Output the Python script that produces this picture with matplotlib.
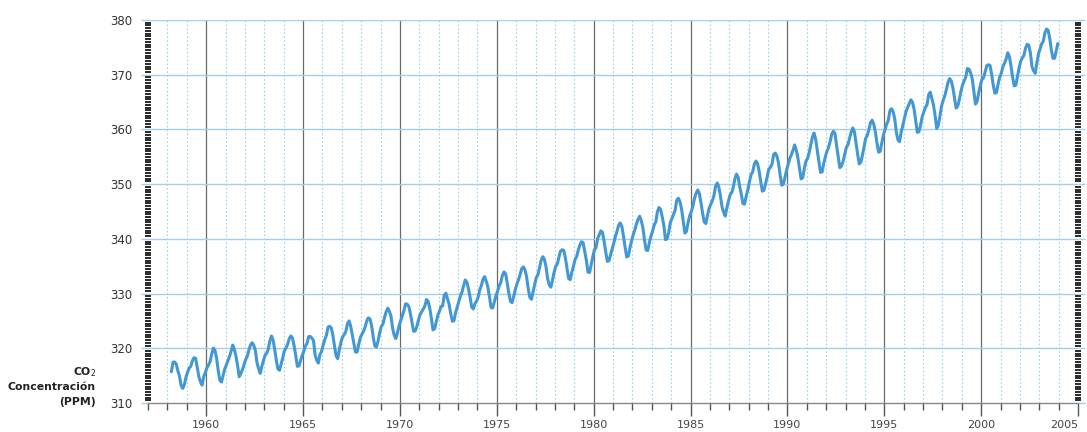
import numpy as np
import matplotlib.pyplot as plt
from matplotlib.ticker import MultipleLocator

# monthly CO2 (ppm), Mauna Loa, Mar 1958 - Dec 2003
firstYear = 1958
firstMonth = 3
co2 = [
    315.71, 317.45, 317.50, 317.10, 315.86, 314.93, 313.20, 312.66, 313.33, 314.67,
    315.62, 316.38, 316.71, 317.72, 318.29, 318.15, 316.54, 314.80, 313.84, 313.26, 314.80, 315.58,
    316.43, 316.97, 317.58, 319.02, 320.03, 319.59, 318.18, 315.91, 314.16, 313.83, 315.00, 316.19,
    316.93, 317.70, 318.54, 319.48, 320.58, 319.77, 318.57, 316.79, 314.80, 315.38, 316.10, 317.01,
    317.94, 318.56, 319.68, 320.63, 321.01, 320.55, 319.58, 317.40, 316.26, 315.42, 316.69, 317.69,
    318.74, 319.08, 319.86, 321.39, 322.25, 321.47, 319.74, 317.77, 316.21, 315.99, 317.12, 318.31,
    319.57, 320.07, 320.73, 321.77, 322.25, 321.89, 320.44, 318.70, 316.70, 316.79, 317.79, 318.71,
    319.44, 320.44, 320.89, 322.13, 322.16, 321.87, 321.39, 318.81, 317.81, 317.30, 318.87, 319.42,
    320.62, 321.59, 322.39, 323.87, 324.01, 323.75, 322.39, 320.37, 318.64, 318.10, 319.79, 321.08,
    322.07, 322.50, 323.04, 324.42, 325.00, 324.09, 322.55, 320.92, 319.31, 319.31, 320.72, 321.96,
    322.57, 323.15, 323.89, 325.02, 325.57, 325.36, 324.14, 322.03, 320.41, 320.25, 321.31, 322.84,
    324.00, 324.42, 325.64, 326.66, 327.34, 326.76, 325.88, 323.67, 322.38, 321.78, 322.85, 324.11,
    325.03, 325.99, 326.87, 328.13, 328.07, 327.66, 326.35, 324.69, 323.10, 323.16, 323.98, 325.13,
    326.17, 326.68, 327.18, 327.78, 328.92, 328.57, 327.34, 325.46, 323.36, 323.57, 324.80, 326.01,
    326.77, 327.63, 327.75, 329.72, 330.07, 329.09, 328.05, 326.32, 324.93, 325.06, 326.50, 327.55,
    328.54, 329.56, 330.30, 331.50, 332.48, 332.07, 330.87, 329.31, 327.51, 327.18, 328.16, 328.64,
    329.35, 330.71, 331.48, 332.65, 333.09, 332.25, 331.18, 329.40, 327.43, 327.37, 328.46, 329.57,
    330.40, 331.40, 332.04, 333.31, 333.96, 333.59, 331.91, 330.06, 328.56, 328.34, 329.49, 330.76,
    331.75, 332.56, 333.50, 334.58, 334.87, 334.34, 333.05, 330.94, 329.30, 328.94, 330.31, 331.68,
    332.93, 333.42, 334.70, 336.07, 336.74, 336.27, 334.93, 332.75, 331.58, 331.16, 332.40, 333.85,
    334.97, 335.39, 336.64, 337.76, 338.01, 337.89, 336.54, 334.68, 332.76, 332.54, 333.92, 334.95,
    336.23, 336.76, 337.96, 338.89, 339.47, 339.29, 337.73, 336.09, 333.91, 333.86, 335.29, 336.73,
    338.01, 338.36, 340.08, 340.77, 341.46, 341.17, 339.56, 337.60, 335.88, 336.01, 337.10, 338.21,
    339.23, 340.47, 341.38, 342.51, 342.91, 342.25, 340.49, 338.43, 336.69, 336.86, 338.36, 339.61,
    340.75, 341.61, 342.70, 343.56, 344.13, 343.35, 342.06, 339.82, 337.97, 337.86, 339.26, 340.49,
    341.38, 342.52, 343.10, 344.94, 345.75, 345.32, 343.99, 342.39, 339.86, 339.99, 341.16, 342.99,
    343.70, 344.51, 345.28, 347.08, 347.43, 346.79, 345.40, 343.28, 341.07, 341.35, 342.98, 344.22,
    344.97, 345.99, 347.42, 348.35, 348.93, 348.25, 346.56, 344.67, 343.09, 342.80, 344.24, 345.56,
    346.29, 346.96, 347.86, 349.55, 350.21, 349.54, 347.94, 345.91, 344.86, 344.17, 345.66, 346.90,
    348.02, 348.47, 349.42, 350.99, 351.84, 351.25, 349.52, 348.10, 346.44, 346.36, 347.81, 348.96,
    350.43, 351.72, 352.22, 353.59, 354.22, 353.79, 352.39, 350.44, 348.72, 348.88, 350.07, 351.34,
    352.76, 353.07, 353.68, 355.42, 355.67, 355.13, 353.90, 351.67, 349.80, 349.99, 351.30, 352.53,
    353.66, 354.70, 355.39, 356.20, 357.16, 356.22, 354.82, 352.91, 350.96, 351.18, 352.83, 354.21,
    354.72, 355.75, 357.16, 358.60, 359.34, 358.24, 356.17, 354.03, 352.16, 352.21, 353.75, 354.99,
    355.99, 356.72, 357.81, 359.15, 359.66, 359.25, 357.02, 355.00, 353.01, 353.31, 354.16, 355.40,
    356.70, 357.17, 358.38, 359.46, 360.28, 359.60, 357.57, 355.52, 353.70, 353.98, 355.33, 356.80,
    358.36, 358.91, 359.97, 361.26, 361.68, 360.95, 359.55, 357.49, 355.84, 356.00, 357.58, 359.04,
    359.97, 361.00, 361.64, 363.45, 363.79, 363.26, 361.90, 359.46, 358.06, 357.75, 359.56, 360.70,
    362.05, 363.25, 364.03, 364.72, 365.41, 364.97, 363.65, 361.49, 359.46, 359.60, 360.76, 362.33,
    363.18, 363.99, 364.56, 366.36, 366.80, 365.63, 364.47, 362.50, 360.19, 360.78, 362.43, 364.28,
    365.32, 366.15, 367.31, 368.61, 369.29, 368.87, 367.64, 365.77, 363.90, 364.23, 365.46, 366.97,
    368.15, 368.87, 369.59, 371.14, 371.00, 370.35, 369.27, 366.94, 364.63, 365.12, 366.67, 368.01,
    369.14, 369.46, 370.52, 371.66, 371.82, 371.70, 370.12, 368.12, 366.62, 366.73, 368.29, 369.53,
    370.28, 371.50, 372.12, 372.87, 374.02, 373.30, 371.62, 369.55, 367.96, 368.09, 369.68, 371.24,
    372.44, 373.08, 373.52, 374.85, 375.55, 375.40, 374.02, 371.49, 370.71, 370.25, 372.08, 373.78,
    374.68, 375.63, 376.11, 377.65, 378.35, 378.13, 376.62, 374.50, 372.99, 373.01, 374.35, 375.70,
]

xTicks = [1960, 1965, 1970, 1975, 1980, 1985, 1990, 1995, 2000, 2005]
yTicks = [310, 320, 330, 340, 350, 360, 370, 380]

lineColor = "#4398d3"
gridBlue = "#a3cfec"

months = np.arange(len(co2)) + (firstMonth - 1)
dates = firstYear + (months + 0.5) / 12.0

fig = plt.figure(figsize=(10.87, 4.32), dpi=100)
ax = fig.add_axes([148 / 1087, 29 / 432, 930 / 1087, 383 / 432])
ax.set_xlim(1957, 2005)
ax.set_ylim(310, 380)

# year grid
for yr in range(1958, 2005):
    if yr % 5 == 0:
        ax.axvline(yr, color="#6a6a6a", lw=0.9, zorder=1)
    else:
        ax.axvline(yr, color=gridBlue, lw=0.8, ls=(0, (1.5, 2.0)), zorder=1)
for v in yTicks[1:]:
    ax.axhline(v, color=gridBlue, lw=1.0, zorder=1)

ax.plot(dates, co2, color=lineColor, lw=2.2, solid_joinstyle="round",
        solid_capstyle="round", zorder=3)

for s in ["top", "left", "right"]:
    ax.spines[s].set_visible(False)
ax.spines["bottom"].set_color("#888888")
ax.spines["bottom"].set_linewidth(1.0)

# striped bars on both sides
ax.yaxis.set_minor_locator(MultipleLocator(0.5))
ax.tick_params(axis="y", which="minor", left=True, right=True, direction="inout",
               length=5, width=1.35, color="#222222")
ax.set_yticks(yTicks)
ax.set_yticklabels([str(v) for v in yTicks], fontsize=8.5, color="#333333")
ax.tick_params(axis="y", which="major", left=True, right=True, direction="out",
               length=5, width=1.0, color=gridBlue, pad=6)

ax.set_xticks(xTicks)
ax.set_xticklabels([str(v) for v in xTicks], fontsize=8, color="#444444")
ax.get_xticklabels()[-1].set_horizontalalignment("right")
ax.set_xticks(range(1957, 2006), minor=True)
ax.tick_params(axis="x", which="major", direction="out", length=9.5, width=1.0,
               color="#555555", pad=2.5)
ax.tick_params(axis="x", which="minor", direction="out", length=5, width=1.0,
               color="#555555")

labelFont = dict(ha="right", va="center", fontsize=7.8, fontweight="bold", color="#222222")
fig.text(96 / 1087, 1 - 372 / 432, "CO$_2$", **labelFont)
fig.text(96 / 1087, 1 - 387 / 432, "Concentración", **labelFont)
fig.text(96 / 1087, 1 - 402 / 432, "(PPM)", **labelFont)

fig.savefig("out.png", dpi=100)
